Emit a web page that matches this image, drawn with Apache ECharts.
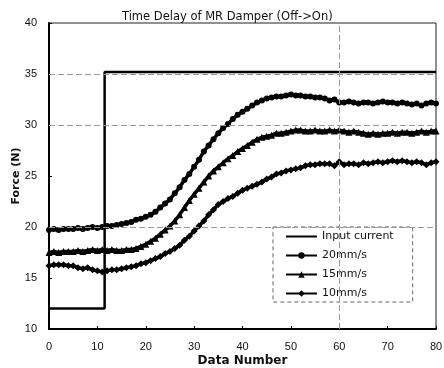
<!DOCTYPE html>
<html>
<head>
<meta charset="utf-8">
<script src="https://cdn.jsdelivr.net/npm/echarts@6/dist/echarts.min.js"></script>
<style>
  html, body { margin: 0; padding: 0; background: #fff; }
  #chart { width: 444px; height: 368px; }
</style>
</head>
<body>
<div id="chart"></div>
<script>
// force readings, one value per data number 0..80
const inputCurrent = [
  12, 12, 12, 12, 12, 12, 12, 12, 12, 12, 12, 12,
  35.2, 35.2, 35.2, 35.2, 35.2, 35.2, 35.2, 35.2, 35.2, 35.2,
  35.2, 35.2, 35.2, 35.2, 35.2, 35.2, 35.2, 35.2, 35.2, 35.2,
  35.2, 35.2, 35.2, 35.2, 35.2, 35.2, 35.2, 35.2, 35.2, 35.2,
  35.2, 35.2, 35.2, 35.2, 35.2, 35.2, 35.2, 35.2, 35.2, 35.2,
  35.2, 35.2, 35.2, 35.2, 35.2, 35.2, 35.2, 35.2, 35.2, 35.2,
  35.2, 35.2, 35.2, 35.2, 35.2, 35.2, 35.2, 35.2, 35.2, 35.2,
  35.2, 35.2, 35.2, 35.2, 35.2, 35.2, 35.2, 35.2, 35.2
]
const speed20 = [
  19.7, 19.8, 19.7, 19.8, 19.8, 19.8, 19.9, 19.8, 19.9, 20.0,
  19.9, 20.0, 20.1, 20.1, 20.2, 20.3, 20.4, 20.5, 20.7, 20.8,
  21.0, 21.2, 21.5, 21.9, 22.3, 22.7, 23.3, 23.9, 24.6, 25.2,
  25.9, 26.6, 27.4, 28.0, 28.6, 29.2, 29.7, 30.1, 30.6, 31.0,
  31.3, 31.6, 31.9, 32.2, 32.4, 32.6, 32.7, 32.8, 32.8, 32.9,
  33.0, 32.9, 32.9, 32.8, 32.8, 32.7, 32.7, 32.6, 32.4, 32.5,
  32.2, 32.2, 32.3, 32.2, 32.1, 32.2, 32.2, 32.1, 32.2, 32.3,
  32.2, 32.2, 32.1, 32.2, 32.1, 32.0, 32.1, 31.9, 32.1, 32.2,
  32.1
]
const speed15 = [
  17.5, 17.6, 17.5, 17.6, 17.6, 17.6, 17.7, 17.6, 17.7, 17.8,
  17.7, 17.8, 17.7, 17.8, 17.7, 17.7, 17.8, 17.8, 17.9, 18.1,
  18.3, 18.6, 18.9, 19.3, 19.7, 20.1, 20.6, 21.2, 21.9, 22.6,
  23.2, 23.8, 24.4, 25.0, 25.5, 25.9, 26.3, 26.7, 27.0, 27.4,
  27.7, 28.0, 28.3, 28.6, 28.8, 28.9, 29.0, 29.2, 29.2, 29.3,
  29.4, 29.5, 29.5, 29.4, 29.4, 29.5, 29.4, 29.4, 29.5, 29.4,
  29.5, 29.4, 29.3, 29.4, 29.3, 29.2, 29.1, 29.2, 29.1, 29.2,
  29.2, 29.3, 29.2, 29.3, 29.3, 29.2, 29.3, 29.4, 29.3, 29.4,
  29.4
]
const speed10 = [
  16.2, 16.3, 16.3, 16.3, 16.2, 16.2, 16.0, 15.9, 16.0, 15.8,
  15.7, 15.6, 15.7, 15.8, 15.8, 15.9, 16.0, 16.1, 16.2, 16.4,
  16.5, 16.7, 16.9, 17.1, 17.4, 17.6, 17.9, 18.2, 18.7, 19.1,
  19.6, 20.1, 20.6, 21.2, 21.7, 22.2, 22.5, 22.8, 23.0, 23.3,
  23.6, 23.8, 24.0, 24.2, 24.4, 24.7, 24.9, 25.2, 25.3, 25.5,
  25.6, 25.7, 25.8, 26.0, 26.1, 26.1, 26.2, 26.2, 26.2, 26.0,
  26.4, 26.1, 26.2, 26.2, 26.1, 26.3, 26.2, 26.3, 26.4, 26.3,
  26.4, 26.5, 26.4, 26.5, 26.4, 26.3, 26.4, 26.3, 26.1, 26.3,
  26.4
]
const seriesNames = ['Input current', '20mm/s', '15mm/s', '10mm/s']
const gridForces = [20, 30, 35]
const gridNumbers = [60]

const pairs = arr => arr.map((v, i) => [i, v])

const chart = echarts.init(document.getElementById('chart'))
const font = 'Liberation Sans'

chart.setOption({
  animation: false,
  title: {
    text: 'Time Delay of MR Damper (Off->On)',
    left: 117,
    top: 6,
    textStyle: { fontFamily: 'DejaVu Sans', fontSize: 11.5, fontWeight: 'normal', color: '#111' }
  },
  grid: {
    left: 49, right: 8, top: 23, bottom: 39,
    outerBoundsMode: 'none',
    show: true, borderColor: '#222', borderWidth: 1
  },
  legend: {
    orient: 'vertical',
    left: 273,
    top: 227,
    padding: [4, 19, 3, 12],
    itemWidth: 31,
    itemHeight: 8,
    itemGap: 8,
    backgroundColor: '#fff',
    borderColor: '#666',
    borderWidth: 1,
    borderType: [4, 3],
    textStyle: { fontFamily: 'DejaVu Sans', fontSize: 11, color: '#111' },
    data: [
      { name: seriesNames[0], itemStyle: { opacity: 0 } },
      seriesNames[1], seriesNames[2], seriesNames[3]
    ]
  },
  xAxis: {
    type: 'value',
    min: 0, max: 80, interval: 10,
    name: 'Data Number',
    nameLocation: 'middle',
    nameGap: 26,
    nameMoveOverlap: false,
    nameTextStyle: { fontFamily: 'DejaVu Sans', fontWeight: 'bold', fontSize: 12, color: '#111' },
    axisLine: { lineStyle: { color: '#000', width: 2 } },
    axisTick: { inside: true, length: 3, lineStyle: { color: '#000' } },
    axisLabel: { margin: 12, fontFamily: font, fontSize: 11, color: '#111' },
    splitLine: { show: false }
  },
  yAxis: {
    type: 'value',
    min: 10, max: 40, interval: 5,
    name: 'Force (N)',
    nameLocation: 'middle',
    nameGap: 27,
    nameMoveOverlap: false,
    nameTextStyle: { fontFamily: 'DejaVu Sans', fontWeight: 'bold', fontSize: 11, color: '#111' },
    axisLine: { show: true, lineStyle: { color: '#000', width: 2 } },
    axisTick: { show: true, inside: true, length: 3, lineStyle: { color: '#000' } },
    axisLabel: { margin: 12, fontFamily: font, fontSize: 11, color: '#111' },
    splitLine: { show: false }
  },
  series: [
    {
      name: seriesNames[0],
      type: 'line',
      data: pairs(inputCurrent),
      step: 'middle',
      symbol: 'none',
      z: 3,
      lineStyle: { color: '#000', width: 2.5 },
      itemStyle: { color: '#000' },
      markLine: {
        silent: true,
        symbol: 'none',
        label: { show: false },
        lineStyle: { color: '#999', width: 1, type: [6, 3] },
        data: gridForces.map(v => ({ yAxis: v })).concat(gridNumbers.map(v => ({ xAxis: v })))
      }
    },
    {
      name: seriesNames[1],
      type: 'line',
      data: pairs(speed20),
      symbol: 'circle',
      symbolSize: 6,
      lineStyle: { color: '#000', width: 3.5 },
      itemStyle: { color: '#000' }
    },
    {
      name: seriesNames[2],
      type: 'line',
      data: pairs(speed15),
      symbol: 'triangle',
      symbolSize: 7,
      lineStyle: { color: '#000', width: 3.5 },
      itemStyle: { color: '#000' }
    },
    {
      name: seriesNames[3],
      type: 'line',
      data: pairs(speed10),
      symbol: 'diamond',
      symbolSize: 7,
      lineStyle: { color: '#000', width: 3.5 },
      itemStyle: { color: '#000' }
    }
  ]
})
</script>
</body>
</html>
